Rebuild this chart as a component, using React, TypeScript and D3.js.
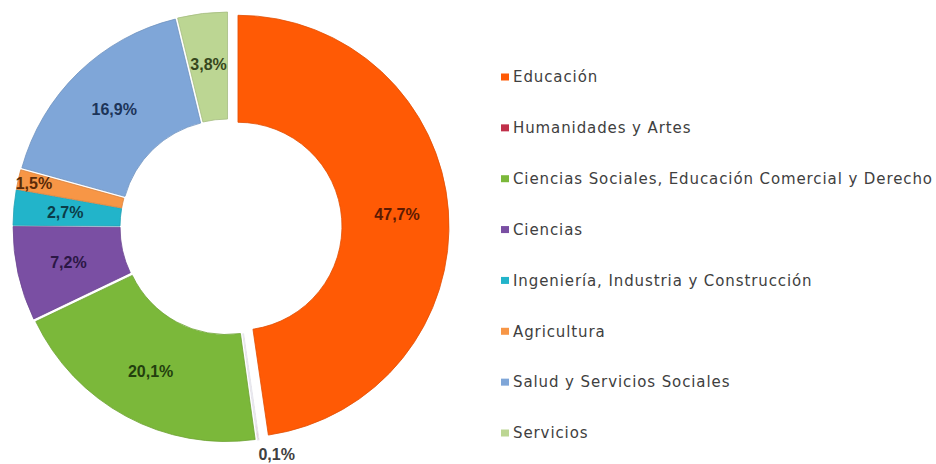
import * as d3 from "d3"

// values (percent of total)
const categories = [
  "Educación",
  "Humanidades y Artes",
  "Ciencias Sociales, Educación Comercial y Derecho",
  "Ciencias",
  "Ingeniería, Industria y Construcción",
  "Agricultura",
  "Salud y Servicios Sociales",
  "Servicios",
]
const values = [47.7, 0.1, 20.1, 7.2, 2.7, 1.5, 16.9, 3.8]
const valueLabels = ["47,7%", "0,1%", "20,1%", "7,2%", "2,7%", "1,5%", "16,9%", "3,8%"]
const colors = ["#ff5a05", "#c0304a", "#7bb83a", "#7a4fa3", "#22b4ca", "#f79646", "#7fa6d8", "#bcd693"]
const labelColors = ["#5c1a02", "#404040", "#233f0e", "#2b1745", "#0b3c48", "#5a2a06", "#1c3459", "#36471c"]

export default function App() {
  const width = 936
  const height = 464
  const cx = 228
  const cy = 227
  const outer = 211
  const inner = 104

  // how far each slice is pulled out from the centre
  const explode = (i: number) => (i === 0 ? 10 : 4)
  // labels that sit away from the ring middle
  const labelRadius: Record<string, number> = {
    "Agricultura": 195,
    "Humanidades y Artes": 226,
  }

  const pie = d3.pie<number>().sort(null).value((d) => d)
  const arcs = pie(values)
  const arc = d3.arc<d3.PieArcDatum<number>>().innerRadius(inner).outerRadius(outer)

  const legendY = d3.scalePoint().domain(categories).range([77, 433])

  return (
    <svg width={width} height={height} style={{position: "absolute", left: 0, top: 0}}>
      <rect width={width} height={height} fill="#ffffff" />
      <g transform={`translate(${cx},${cy})`}>
        {arcs.map((a, i) => {
          const mid = (a.startAngle + a.endAngle) / 2
          const ox = Math.sin(mid) * explode(i)
          const oy = -Math.cos(mid) * explode(i)
          return (
            <path
              key={categories[i]}
              d={arc(a) || ""}
              transform={`translate(${ox},${oy})`}
              fill={colors[i]}
              stroke={i === 1 ? "#e8e8ee" : d3.color(colors[i])!.darker(0.35).formatHex()}
              strokeWidth={i === 1 ? 1.2 : 0.8}
            />
          )
        })}
        {arcs.map((a, i) => {
          const mid = (a.startAngle + a.endAngle) / 2
          const r = labelRadius[categories[i]] ?? (inner + outer) / 2 + 2
          const x = Math.sin(mid) * (r + explode(i))
          const y = -Math.cos(mid) * (r + explode(i))
          const outside = categories[i] === "Humanidades y Artes"
          return (
            <text
              key={"l" + categories[i]}
              x={outside ? x - 2 : x}
              y={y}
              dy="0.35em"
              textAnchor={outside ? "start" : "middle"}
              fontFamily="'Liberation Sans', Arial, sans-serif"
              fontWeight="bold"
              fontSize={16}
              fill={labelColors[i]}
            >
              {valueLabels[i]}
            </text>
          )
        })}
      </g>
      <g fontFamily="'DejaVu Sans', Verdana, sans-serif" fontSize={15} letterSpacing={0.9} fill="#404040">
        {categories.map((c, i) => (
          <g key={"g" + c} transform={`translate(501,${legendY(c)})`}>
            <rect x={0} y={-3.5} width={8} height={7} fill={colors[i]} />
            <text x={12} y={0} dy="0.35em">
              {c}
            </text>
          </g>
        ))}
      </g>
    </svg>
  )
}
